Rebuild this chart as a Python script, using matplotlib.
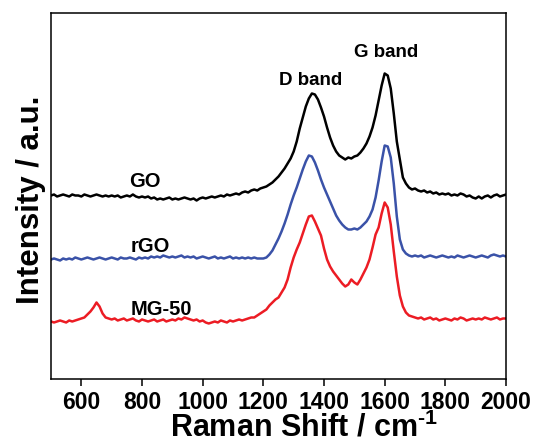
import numpy as np
import matplotlib
matplotlib.use("Agg")
import matplotlib.pyplot as plt

plt.rcParams['font.family'] = ['Liberation Sans', 'DejaVu Sans']
plt.rcParams['mathtext.fontset'] = 'custom'
plt.rcParams['mathtext.rm'] = 'Liberation Sans:bold'
plt.rcParams['mathtext.bf'] = 'Liberation Sans:bold'

# Raman shift grid (cm^-1)
raman_shift = list(range(500, 2001, 10))

# Intensities (arbitrary units, stacked / offset as in figure)
go_intensity = [
    184, 185, 183, 184, 185, 184, 183, 185, 184, 184,
    183, 185, 184, 183, 184, 185, 184, 183, 184, 183,
    184, 183, 184, 182, 183, 184, 183, 185, 183, 182,
    183, 182, 183, 181, 182, 180, 181, 180, 181, 182,
    180, 181, 180, 181, 182, 181, 180, 181, 179, 181,
    182, 181, 182, 183, 182, 183, 184, 183, 185, 184,
    185, 186, 185, 187, 188, 187, 189, 190, 189, 191,
    192, 193, 195, 197, 200, 203, 207, 211, 216, 221,
    228, 238, 251, 262, 273, 281, 286, 285, 280, 272,
    263, 252, 242, 234, 228, 224, 222, 220, 222, 221,
    223, 224, 227, 231, 236, 243, 252, 264, 279, 294,
    306, 304, 291, 266, 238, 220, 202, 196, 192, 190,
    191, 189, 188, 189, 187, 188, 186, 187, 185, 186,
    185, 186, 184, 185, 184, 186, 185, 183, 184, 182,
    181, 183, 181, 183, 184, 182, 184, 185, 183, 184,
    185]

rgo_intensity = [
    120, 121, 120, 119, 121, 120, 121, 120, 122, 121,
    120, 121, 122, 121, 120, 121, 122, 121, 120, 121,
    122, 121, 120, 122, 121, 121, 122, 121, 120, 122,
    121, 122, 121, 123, 122, 123, 122, 124, 123, 122,
    123, 122, 123, 124, 122, 123, 122, 123, 121, 122,
    123, 122, 121, 122, 123, 121, 122, 121, 122, 123,
    121, 122, 121, 122, 121, 122, 121, 122, 121, 121,
    121, 122, 125, 129, 135, 141, 148, 156, 165, 175,
    184, 192, 201, 210, 218, 224, 223, 217, 209, 200,
    192, 185, 178, 171, 164, 159, 155, 152, 150, 150,
    151, 150, 152, 155, 158, 163, 170, 182, 199, 218,
    234, 233, 222, 196, 163, 140, 130, 126, 124, 123,
    124, 123, 124, 122, 123, 124, 123, 122, 123, 124,
    123, 122, 123, 122, 124, 123, 122, 123, 124, 123,
    122, 123, 124, 123, 122, 124, 125, 124, 123, 124,
    123]

mg50_intensity = [
    58, 57, 58, 59, 58, 57, 59, 58, 59, 60,
    61, 62, 65, 68, 72, 77, 73, 66, 62, 61,
    60, 61, 59, 60, 61, 59, 60, 61, 59, 58,
    60, 59, 58, 59, 60, 58, 59, 60, 58, 59,
    60, 59, 61, 60, 62, 61, 60, 59, 60, 58,
    59, 57, 56, 57, 58, 57, 59, 58, 57, 59,
    58, 59, 60, 59, 60, 61, 62, 62, 64, 66,
    68, 70, 74, 77, 80, 82, 87, 92, 100, 112,
    122, 130, 137, 146, 155, 163, 164, 158, 151, 144,
    131, 120, 113, 108, 104, 100, 96, 93, 95, 100,
    97, 95, 100, 106, 112, 120, 132, 145, 152, 166,
    177, 172, 155, 128, 103, 84, 73, 67, 64, 63,
    62, 61, 62, 60, 61, 62, 60, 61, 59, 60,
    61, 60, 59, 61, 60, 62, 61, 59, 60, 61,
    60, 61, 60, 62, 61, 60, 61, 62, 60, 61,
    61]

xticks = [600, 800, 1000, 1200, 1400, 1600, 1800, 2000]

fig = plt.figure(figsize=(5.34, 4.44), dpi=100)
ax = fig.add_axes([0.0955, 0.1453, 0.8521, 0.8243])

ax.plot(raman_shift, go_intensity, color='black', lw=1.8)
ax.plot(raman_shift, rgo_intensity, color='#3a52a8', lw=1.8)
ax.plot(raman_shift, mg50_intensity, color='#ec1c24', lw=1.8)

ax.set_xlim(500, 2000)
ax.set_ylim(0, 366)
ax.set_xticks(xticks)
ax.set_xticklabels([str(t) for t in xticks])
ax.set_yticks([])
ax.tick_params(axis='x', direction='out', length=5, width=1.1,
               labelsize=16.5, pad=3)
for lab in ax.get_xticklabels():
    lab.set_fontweight('bold')
for sp in ax.spines.values():
    sp.set_linewidth(1.1)

ax.set_xlabel('Raman Shift / cm$^{\u20101}$', fontsize=22, fontweight='bold')
ax.xaxis.label.set_va('bottom')
ax.xaxis.set_label_coords(0.556, -0.176)
ax.set_ylabel('Intensity / a.u.', fontsize=22.5, fontweight='bold')
ax.yaxis.set_label_coords(-0.012, 0.49)

ax.text(810, 198, 'GO', fontsize=14.5, fontweight='bold', ha='center', va='center')
ax.text(826, 133, 'rGO', fontsize=14.5, fontweight='bold', ha='center', va='center')
ax.text(865, 70, 'MG-50', fontsize=14.5, fontweight='bold', ha='center', va='center')
ax.text(1357, 299, 'D band', fontsize=13.5, fontweight='bold', ha='center', va='center')
ax.text(1605, 327, 'G band', fontsize=13.5, fontweight='bold', ha='center', va='center')

fig.savefig('out.png', dpi=100)
